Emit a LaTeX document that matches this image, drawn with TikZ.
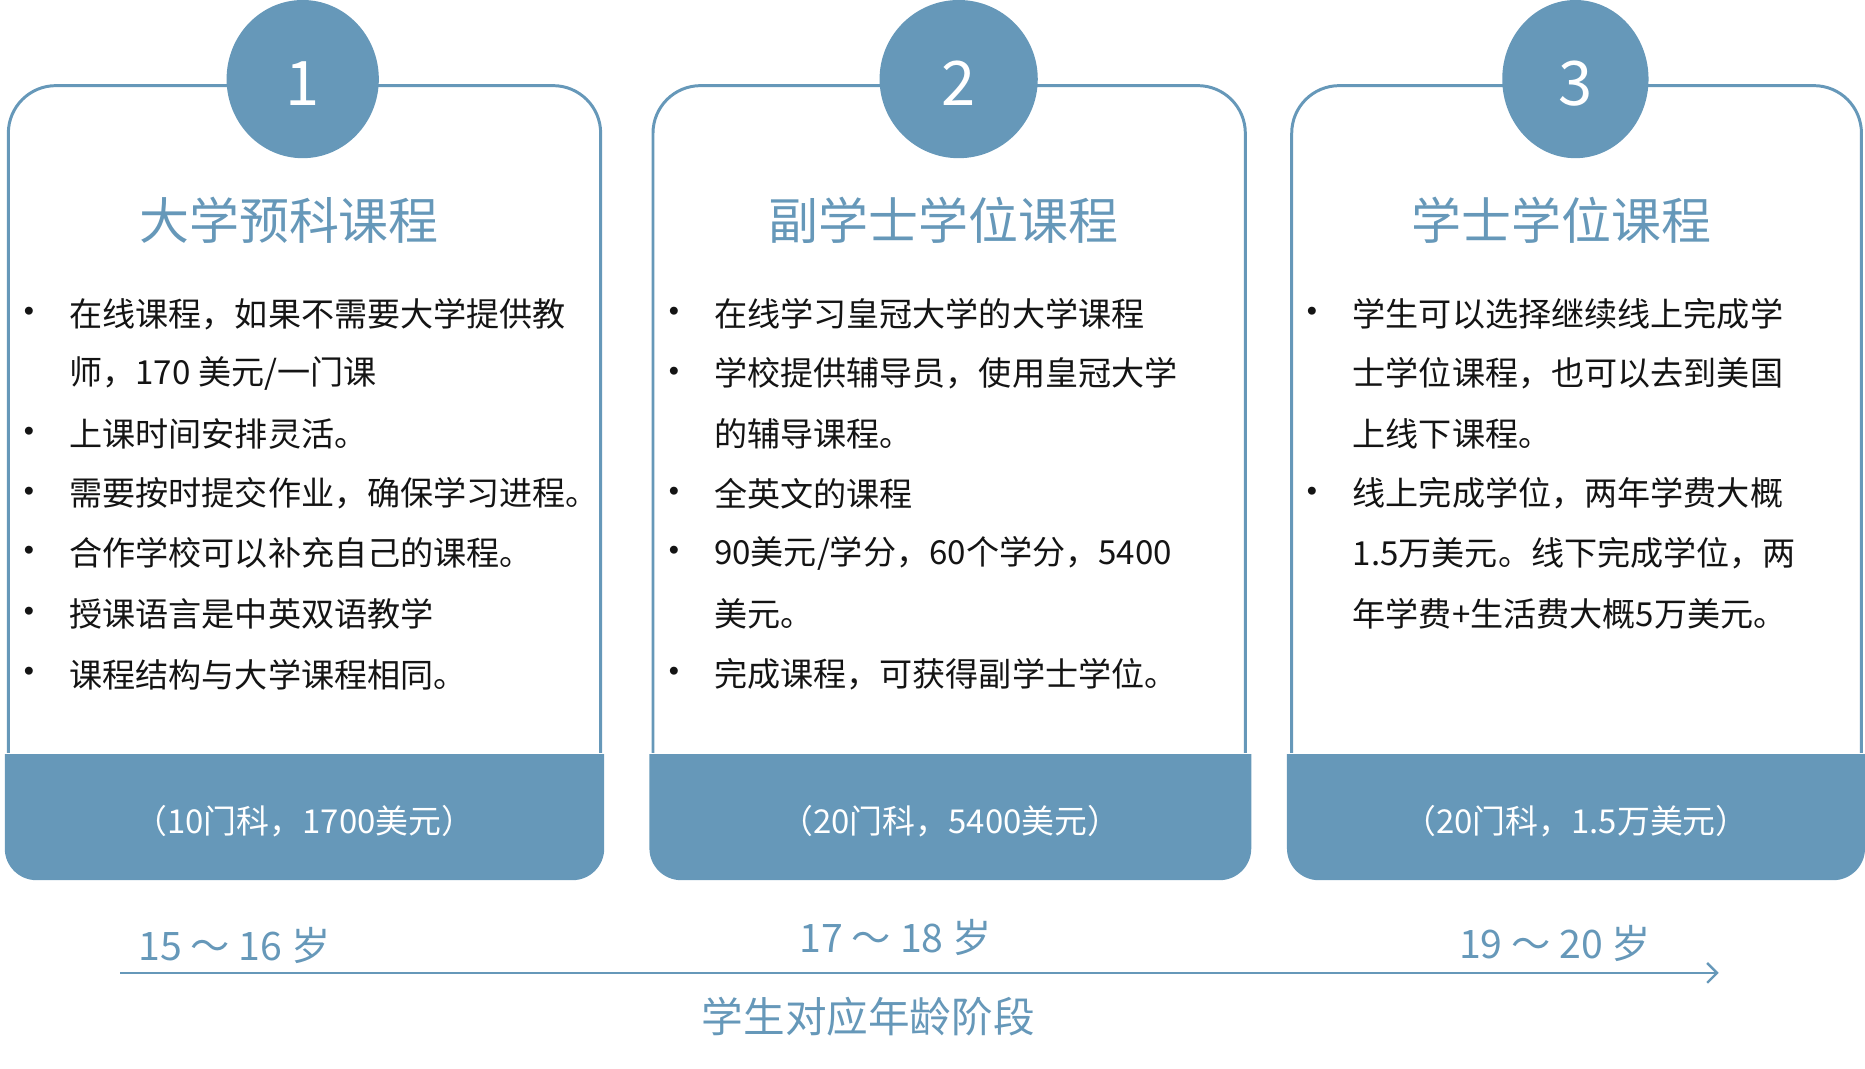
\documentclass[tikz,border=0pt]{standalone}
\usepackage{fontspec}
\setmainfont{Noto Sans CJK SC}
\usetikzlibrary{arrows.meta}

\begin{document}
\begin{tikzpicture}[x=0.6pt,y=0.6pt,yscale=-1,
  stageline/.style={draw={rgb, 255:red, 102; green, 152; blue, 185}, line width=1.5pt, rounded corners=24pt},
  stageband/.style={fill={rgb, 255:red, 102; green, 152; blue, 185}, rounded corners=16pt},
  stagebadge/.style={fill={rgb, 255:red, 102; green, 152; blue, 185}},
  badgenum/.style={text=white, inner sep=0pt, font=\fontsize{31}{31}\selectfont},
  stagetitle/.style={text={rgb, 255:red, 102; green, 152; blue, 185}, inner sep=0pt, font=\fontsize{25.2}{28}\selectfont},
  stageitem/.style={anchor=west, inner sep=0pt, text={rgb, 255:red, 20; green, 20; blue, 20}, font=\fontsize{16.7}{20}\selectfont},
  stagedot/.style={inner sep=0pt, text={rgb, 255:red, 20; green, 20; blue, 20}, font=\fontsize{19}{20}\selectfont},
  stagefee/.style={text=white, inner sep=0pt, font=\fontsize{16.6}{18}\selectfont},
  stageage/.style={text={rgb, 255:red, 102; green, 152; blue, 185}, inner sep=0pt, font=\fontsize{19.8}{22}\selectfont},
  ageaxis/.style={draw={rgb, 255:red, 102; green, 152; blue, 185}, line width=1.2pt, -{Straight Barb[length=5pt,width=10pt]}}
]
\useasboundingbox (0,0) rectangle (1568,898);

%Shape: Outlines of the three stages
\draw [stageline] (7,633) -- (7,72) -- (505,72) -- (505,633) ;
\draw [stageline] (549,633) -- (549,72) -- (1047,72) -- (1047,633) ;
\draw [stageline] (1086,633) -- (1086,72) -- (1565,72) -- (1565,633) ;

%Shape: Bands at the foot, top corners square
\begin{scope}
\clip (0,634) rectangle (1568,898);
\fill [stageband] (4,560) rectangle (508,740) ;
\fill [stageband] (546,560) rectangle (1052,740) ;
\fill [stageband] (1082,560) rectangle (1568,740) ;
\end{scope}

%Shape: Circles with the numbers
\fill [stagebadge] (254.5,66.5) ellipse [x radius=64, y radius=66.5] ;
\fill [stagebadge] (806,66.5) ellipse [x radius=66.5, y radius=66.5] ;
\fill [stagebadge] (1324.5,66.5) ellipse [x radius=61.5, y radius=66.5] ;

% Text Node
\draw (254.5,70) node [badgenum] (numA) {1};
% Text Node
\draw (806,70) node [badgenum] (numB) {2};
% Text Node
\draw (1324.5,70) node [badgenum] (numC) {3};

% Text Node
\draw (243,185) node [stagetitle] (titleA) {大学预科课程};
% Text Node
\draw (793.5,185) node [stagetitle] (titleB) {副学士学位课程};
% Text Node
\draw (1312.5,185) node [stagetitle] (titleC) {学士学位课程};

% Text Node: first stage
\draw (25,266) node [stagedot] (dotA1) {•};
\draw (58,264) node [stageitem] (lineA1) {在线课程，如果不需要大学提供教};
\draw (58,314) node [stageitem] (lineA2) {师，170 美元/一门课};
\draw (25,367) node [stagedot] (dotA2) {•};
\draw (58,365) node [stageitem] (lineA3) {上课时间安排灵活。};
\draw (25,417) node [stagedot] (dotA3) {•};
\draw (58,415) node [stageitem] (lineA4) {需要按时提交作业，确保学习进程。};
\draw (25,467) node [stagedot] (dotA4) {•};
\draw (58,465) node [stageitem] (lineA5) {合作学校可以补充自己的课程。};
\draw (25,518) node [stagedot] (dotA5) {•};
\draw (58,516) node [stageitem] (lineA6) {授课语言是中英双语教学};
\draw (25,569) node [stagedot] (dotA6) {•};
\draw (58,567) node [stageitem] (lineA7) {课程结构与大学课程相同。};

% Text Node: second stage
\draw (567,266) node [stagedot] (dotB1) {•};
\draw (600,264) node [stageitem] (lineB1) {在线学习皇冠大学的大学课程};
\draw (567,316) node [stagedot] (dotB2) {•};
\draw (600,314) node [stageitem] (lineB2) {学校提供辅导员，使用皇冠大学};
\draw (600,365) node [stageitem] (lineB3) {的辅导课程。};
\draw (567,417) node [stagedot] (dotB3) {•};
\draw (600,415) node [stageitem] (lineB4) {全英文的课程};
\draw (567,467) node [stagedot] (dotB4) {•};
\draw (600,465) node [stageitem] (lineB5) {90美元/学分，60个学分，5400};
\draw (600,516) node [stageitem] (lineB6) {美元。};
\draw (567,569) node [stagedot] (dotB5) {•};
\draw (600,567) node [stageitem] (lineB7) {完成课程，可获得副学士学位。};

% Text Node: third stage
\draw (1103,266) node [stagedot] (dotC1) {•};
\draw (1137,264) node [stageitem] (lineC1) {学生可以选择继续线上完成学};
\draw (1137,314) node [stageitem] (lineC2) {士学位课程，也可以去到美国};
\draw (1137,365) node [stageitem] (lineC3) {上线下课程。};
\draw (1103,417) node [stagedot] (dotC2) {•};
\draw (1137,415) node [stageitem] (lineC4) {线上完成学位，两年学费大概};
\draw (1137,465) node [stageitem] (lineC5) {1.5万美元。线下完成学位，两};
\draw (1137,516) node [stageitem] (lineC6) {年学费+生活费大概5万美元。};

% Text Node: fees
\draw (256,690) node [stagefee] (feeA) {（10门科，1700美元）};
\draw (799,690) node [stagefee] (feeB) {（20门科，5400美元）};
\draw (1325,690) node [stagefee] (feeC) {（20门科，1.5万美元）};

% Text Node: ages
\draw (197,795) node [stageage] (ageA) {15 ～ 16 岁};
\draw (753,788) node [stageage] (ageB) {17 ～ 18 岁};
\draw (1307.5,793) node [stageage] (ageC) {19 ～ 20 岁};

%Straight Lines: age axis
\coordinate (axisStart) at (101,818);
\coordinate (axisEnd) at (1445,818);
\draw [ageaxis] (axisStart) -- (axisEnd) ;

% Text Node
\draw (730,855) node [stageage, font=\fontsize{21}{24}\selectfont] (axisLabel) {学生对应年龄阶段};

\end{tikzpicture}
\end{document}
